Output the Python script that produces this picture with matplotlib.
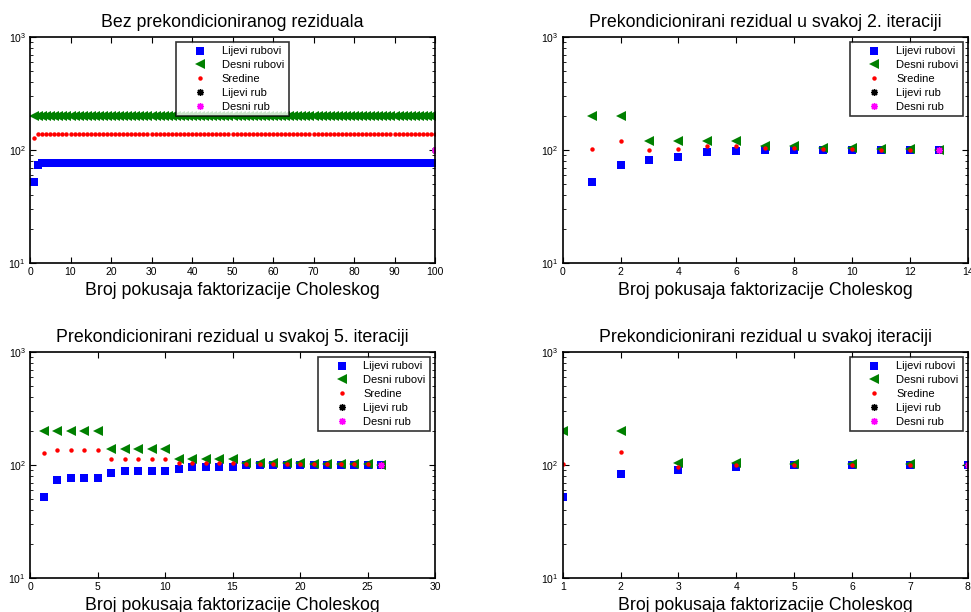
import numpy as np
import matplotlib
matplotlib.use("Agg")
import matplotlib.pyplot as plt
from matplotlib.ticker import LogLocator, LogFormatterSciNotation, NullFormatter

plt.rcParams['font.family'] = ['Liberation Sans', 'DejaVu Sans']
plt.rcParams['mathtext.fontset'] = 'custom'
plt.rcParams['mathtext.rm'] = 'Liberation Sans'

titles = ["Bez prekondicioniranog reziduala",
          "Prekondicionirani rezidual u svakoj 2. iteraciji",
          "Prekondicionirani rezidual u svakoj 5. iteraciji",
          "Prekondicionirani rezidual u svakoj iteraciji"]
xlabel = "Broj pokusaja faktorizacije Choleskog"
labels = ["Lijevi rubovi", "Desni rubovi", "Sredine", "Lijevi rub", "Desni rub"]

# panel 1: no preconditioning, 100 attempts
x1 = list(range(1, 101))
blue1 = [52.4, 73.6] + [76.2] * 98
green1 = [200] * 100
red1 = [128.5] + [137.7] * 99

# panel 2: every 2nd iteration
x2 = list(range(1, 14))
blue2 = [52.4, 73.6, 81.6, 86.7, 96.6, 97.0, 99.5, 99.5, 99.7, 99.8, 99.9, 100, 100]
green2 = [200, 200, 121, 121, 121, 121, 109, 109, 104, 104, 102, 102, 100]
red2 = [102.8, 120.8, 99.3, 102.8, 109, 109, 104, 104, 101.5, 101.5, 100.8, 100.8, 100]

# panel 3: every 5th iteration
x3 = list(range(1, 27))
blue3 = [52.4, 74.3, 77.3, 77.3, 77.3, 85.7, 88, 88, 88, 88,
         92.9, 95.4, 95.4, 95.4, 95.4] + [99.4] * 10 + [100]
green3 = [201] * 5 + [138.6] * 5 + [114] * 5 + [104] * 5 + [102] * 5 + [100]
red3 = [126.9] + [136.8] * 4 + [112.3] * 5 + [104.2] * 5 + [101.4] * 10 + [100]

# panel 4: every iteration
x4 = list(range(1, 9))
blue4 = [52.4, 84, 89.8, 96.8, 99.5, 99.7, 99.9, 100]
green4 = [200, 200, 104, 104, 103, 103, 102, 100]
red4 = [102, 130.3, 96.8, 100.7, 101, 101, 100.5, 100]

# single end points (left edge / right edge)
edge_y = 100

panels = [
    (x1, blue1, green1, red1, (0, 100), list(range(0, 101, 10)), 'upper center'),
    (x2, blue2, green2, red2, (0, 14), list(range(0, 15, 2)), 'upper right'),
    (x3, blue3, green3, red3, (0, 30), list(range(0, 31, 5)), 'upper right'),
    (x4, blue4, green4, red4, (1, 8), list(range(1, 9)), 'upper right'),
]

fig = plt.figure(figsize=(9.71, 6.12), dpi=100)
W, H = 971.0, 612.0
boxes = [(30, 37), (562.7, 37), (30, 352), (562.7, 352)]
aw, ah = 405, 226
star = (8, 2, 0)  # matlab-like asterisk

for (x, b, g, r, xlim, xt, loc), (l, t), title in zip(panels, boxes, titles):
    ax = fig.add_axes([l / W, 1 - (t + ah) / H, aw / W, ah / H])
    ax.plot(x, b, 's', color='blue', markersize=5.3, markeredgewidth=0, label=labels[0])
    ax.plot(x, g, '<', color='green', markersize=7.2, markeredgewidth=0, label=labels[1])
    ax.plot(x, r, 'o', color='red', markersize=3.2, markeredgewidth=0, label=labels[2])
    ax.plot([x[-1]], [edge_y], marker=star, linestyle='none', color='black',
            markersize=5, markeredgewidth=1.0, label=labels[3])
    ax.plot([x[-1]], [edge_y], marker=star, linestyle='none', color='magenta',
            markersize=5, markeredgewidth=1.0, label=labels[4])
    ax.set_yscale('log')
    ax.set_ylim(10, 1000)
    ax.set_xlim(*xlim)
    ax.set_xticks(xt)
    ax.yaxis.set_major_locator(LogLocator(base=10, numticks=5))
    ax.yaxis.set_major_formatter(LogFormatterSciNotation())
    ax.yaxis.set_minor_locator(LogLocator(base=10, subs=np.arange(2, 10), numticks=20))
    ax.yaxis.set_minor_formatter(NullFormatter())
    ax.tick_params(which='both', direction='in', top=True, right=True, labelsize=7.5, pad=3)
    ax.tick_params(which='major', length=4, width=0.8)
    ax.tick_params(which='minor', length=2, width=0.6)
    for sp in ax.spines.values():
        sp.set_linewidth(1.2)
    ax.set_title(title, fontsize=12.8, pad=7.5)
    ax.set_xlabel(xlabel, fontsize=12.8, labelpad=3.5)
    leg = ax.legend(loc=loc, fontsize=8, frameon=True, fancybox=False, numpoints=1,
                    handlelength=3.5, handletextpad=0.2, borderpad=0.4,
                    labelspacing=0.34, borderaxespad=0.45)
    leg.get_frame().set_edgecolor('black')
    leg.get_frame().set_linewidth(1.2)

fig.savefig("out.png", dpi=100)
